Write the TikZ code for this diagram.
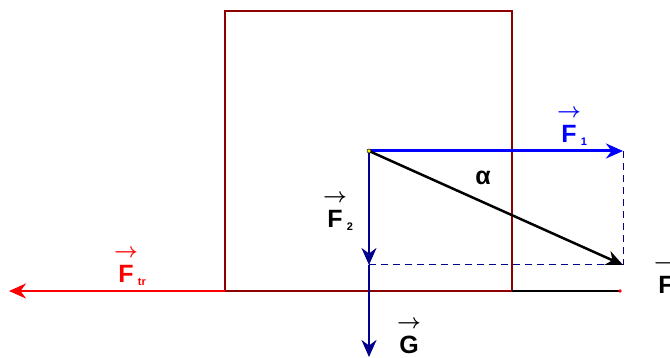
\documentclass[tikz,border=0pt]{standalone}
\usepackage{fontspec}
\setmainfont{Liberation Sans}
\usetikzlibrary{arrows.meta}

\definecolor{boxred}{RGB}{140,0,0}
\definecolor{navyb}{RGB}{0,0,140}

% vector label: arrow above the letter, small index after it
\newcommand{\vlab}[2]{\begin{tabular}[b]{@{}c@{}}{\fontsize{20}{20}\selectfont\boldmath$\rightarrow$}\\[-1pt]#1\end{tabular}\raisebox{-3pt}{\fontsize{11}{11}\selectfont #2}}

\tikzset{
  force/.style={-{Stealth[length=17pt,width=15pt]}},
  helper/.style={navyb,line width=1pt,dash pattern=on 7pt off 5pt},
  lab/.style={font=\bfseries\fontsize{25}{26}\selectfont,inner sep=0pt}
}

\begin{document}
\begin{tikzpicture}[x=1pt,y=-1pt]

\clip (0,0) rectangle (670,358);
\fill[white] (0,0) rectangle (670,358);

% points
\coordinate (O) at (369,151);
\coordinate (F1end) at (623,151);
\coordinate (Fend) at (623,265);
\coordinate (F2end) at (369,265);
\coordinate (Gend) at (369,357);
\coordinate (BL) at (225,291);
\coordinate (BR) at (512,291);
\coordinate (Gnd) at (620,291);
\coordinate (Ftrend) at (9,291);

% the block
\draw[boxred,line width=2.6pt] (BL) -- (225,11) -- (512,11) -- (BR) -- cycle;

% ground line to the right
\draw[line width=2pt] (BR) -- (Gnd);
\fill[red] (Gnd) circle (1.8);

% friction force
\draw[red,line width=2.5pt,force] (BL) -- (Ftrend);

% dashed helper lines
\draw[helper] (F1end) -- (Fend);
\draw[helper] (F2end) -- (Fend);

% components
\draw[blue,line width=3pt,force] (O) -- (F1end);
\draw[navyb,line width=2.2pt,force] (O) -- (F2end);
\draw[navyb,line width=2.2pt,force] (F2end) -- (Gend);

% the applied force
\draw[black,line width=2.5pt,force] (O) -- (Fend);

% point of application
\filldraw[fill=yellow,draw=black,line width=0.5pt] (O) circle (2);

% labels
\node[lab,blue] (lF1) at (572,125) {\vlab{F}{1}};
\node[lab] (lF2) at (338,210) {\vlab{F}{2}};
\node[lab,red] (lFtr) at (130,265) {\vlab{F}{tr}};
\node[lab] (lG) at (409,336) {\vlab{G}{}};
\node[lab] (lF) at (666,276) {\vlab{F}{}};
\node[lab] (alpha) at (483,178) {α};

\end{tikzpicture}
\end{document}
